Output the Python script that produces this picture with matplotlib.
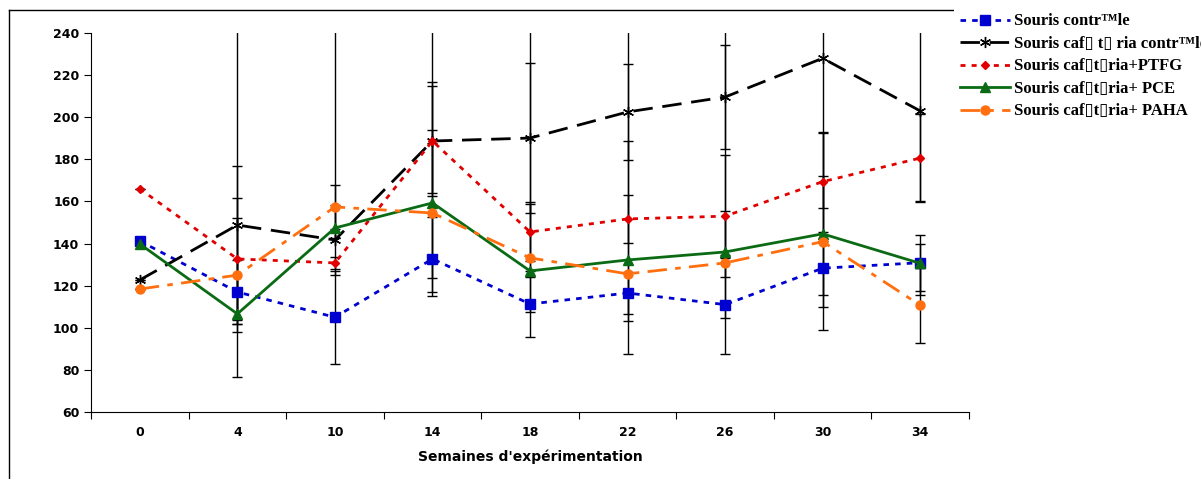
import numpy as np
import matplotlib
matplotlib.use("Agg")
import matplotlib.pyplot as plt
from matplotlib.lines import Line2D

weeks = ["0", "4", "10", "14", "18", "22", "26", "30", "34"]

labels = ["Souris contr\u2122le",
          "Souris caf\u25af t\u25af ria contr\u2122le",
          "Souris caf\u25aft\u25afria+PTFG",
          "Souris caf\u25aft\u25afria+ PCE",
          "Souris caf\u25aft\u25afria+ PAHA"]

# mean values per week
ctrl = [141.2, 117.0, 105.0, 132.7, 111.3, 116.5, 111.0, 128.3, 130.9]
caf = [122.7, 148.8, 141.7, 188.7, 190.1, 202.5, 209.6, 228.0, 203.0]
ptfg = [166.0, 132.7, 130.8, 188.7, 145.5, 151.7, 153.0, 169.4, 180.6]
pce = [139.8, 106.6, 147.4, 159.3, 127.0, 132.2, 136.0, 144.6, 130.6]
paha = [118.4, 125.0, 157.4, 154.5, 133.2, 125.6, 130.8, 140.9, 110.7]

# error bars (lower, upper)
ctrl_lo = [0, 15.0, 22.0, 15.5, 15.5, 10.0, 23.4, 12.7, 13.3]
ctrl_hi = [0, 15.0, 22.0, 20.0, 15.5, 10.0, 23.4, 12.7, 13.3]
caf_lo = [0, 72.0, 16.6, 24.8, 35.8, 22.8, 24.5, 71.2, 43.0]
caf_hi = [0, 100.0, 16.6, 28.2, 35.8, 22.8, 24.5, 80.0, 60.0]
ptfg_lo = [0, 29.0, 3.0, 26.1, 14.0, 11.4, 29.0, 23.7, 20.7]
ptfg_hi = [0, 29.0, 3.0, 26.1, 14.0, 11.4, 29.0, 23.7, 20.7]
pce_lo = [0, 5.0, 5.0, 35.8, 3.0, 44.7, 3.0, 45.7, 15.0]
pce_hi = [0, 70.0, 100.0, 100.0, 120.0, 56.5, 110.0, 47.8, 9.2]
paha_lo = [0, 27.0, 10.4, 39.4, 25.8, 22.3, 26.3, 31.2, 17.8]
paha_hi = [0, 27.0, 10.4, 39.4, 25.8, 120.0, 24.7, 31.2, 17.8]

series = [
    (ctrl, ctrl_lo, ctrl_hi, "#0000d0", (0, (2, 2.2)), "s", 6.5),
    (caf, caf_lo, caf_hi, "#000000", (0, (7, 3.5)), (6, 2, 0), 8),
    (ptfg, ptfg_lo, ptfg_hi, "#e00000", (0, (1.8, 2.2)), "D", 4.5),
    (pce, pce_lo, pce_hi, "#0b6b14", "-", "^", 6.5),
    (paha, paha_lo, paha_hi, "#ff6f0f", (0, (7, 3, 2, 3)), "o", 6.5),
]

fig = plt.figure(figsize=(12.01, 4.79), dpi=100)
ax = fig.add_axes([0.0758, 0.1399, 0.731, 0.7912])

x = np.arange(len(weeks))
handles = []
for vals, lo, hi, col, ls, mk, ms in series:
    ax.errorbar(x, vals, yerr=[lo, hi], fmt="none", ecolor="black",
                elinewidth=1, capsize=3.5, capthick=1, zorder=2)
    ln, = ax.plot(x, vals, color=col, linestyle=ls, linewidth=2,
                  marker=mk, markersize=ms, markerfacecolor=col,
                  markeredgecolor=col, zorder=3)
    handles.append(ln)

ax.set_xlim(-0.5, len(weeks) - 0.5)
ax.set_ylim(60, 240)
ax.set_yticks(np.arange(60, 241, 20))
ax.set_xticks(np.arange(-0.5, len(weeks), 1.0))
ax.set_xticklabels([])
ax.set_xticks(x, minor=True)
ax.set_xticklabels(weeks, minor=True)
ax.tick_params(axis="x", which="minor", length=0, pad=10)
ax.tick_params(axis="both", which="major", length=5, direction="out")
for t in ax.get_yticklabels() + ax.get_xticklabels(minor=True):
    t.set_fontweight("bold")
    t.set_fontsize(9)
ax.spines["top"].set_visible(False)
ax.spines["right"].set_visible(False)
ax.set_xlabel("Semaines d'exp\u00e9rimentation", fontsize=10,
              fontweight="bold", labelpad=8)

# outer frame
fig.add_artist(Line2D([0.0075, 0.0075], [0, 0.979], color="black", lw=1))
fig.add_artist(Line2D([0.0075, 1.0], [0.979, 0.979], color="black", lw=1))

leg = fig.legend(handles, labels, loc="upper left",
                 bbox_to_anchor=(0.794, 0.986), frameon=True,
                 handlelength=3.0, handletextpad=0.25, labelspacing=0.39,
                 borderaxespad=0, borderpad=0.4,
                 prop={"family": ["Liberation Serif", "DejaVu Sans"],
                       "weight": "bold", "size": 12})
leg.get_frame().set_facecolor("white")
leg.get_frame().set_edgecolor("none")
leg.get_frame().set_alpha(1)

fig.savefig("out.png", dpi=100)
